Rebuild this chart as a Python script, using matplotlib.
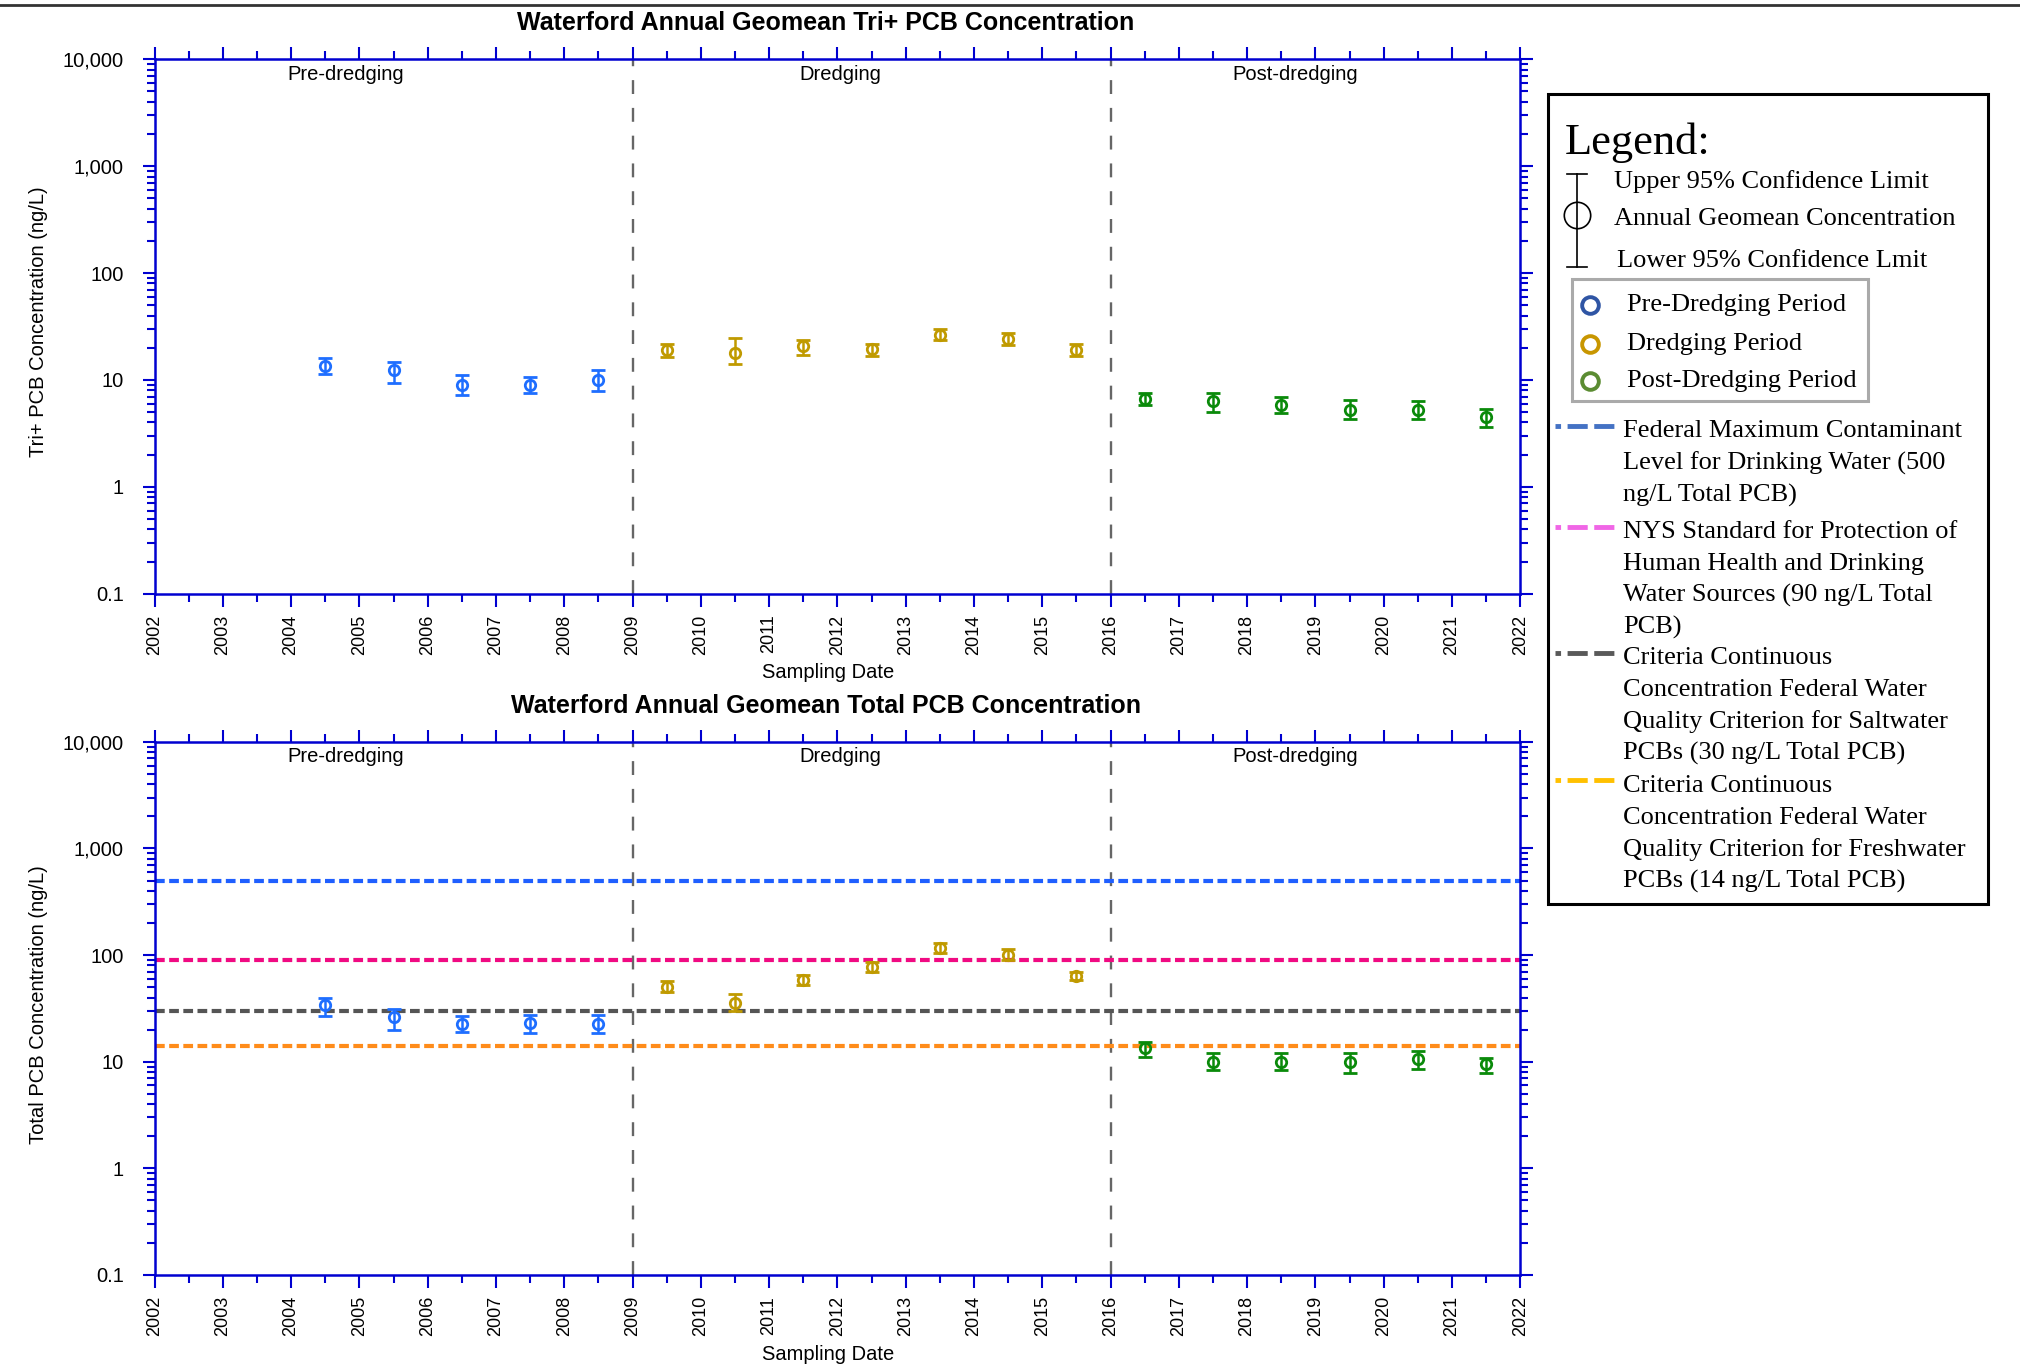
import matplotlib.pyplot as plt
from matplotlib.lines import Line2D
from matplotlib.patches import Rectangle
from matplotlib.ticker import FixedLocator, FuncFormatter, LogLocator, NullFormatter
import numpy as np

plt.rcParams['font.family'] = 'Liberation Sans'
plt.rcParams['lines.scale_dashes'] = False

# sampling year (mid-year) for each period
pre_years = [2004.5, 2005.5, 2006.5, 2007.5, 2008.5]
dred_years = [2009.5, 2010.5, 2011.5, 2012.5, 2013.5, 2014.5, 2015.5]
post_years = [2016.5, 2017.5, 2018.5, 2019.5, 2020.5, 2021.5]

# Tri+ PCB geomean, upper and lower 95% CL (ng/L)
tri_pre = [13.5, 12.4, 9.0, 9.0, 10.0]
tri_pre_up = [16.1, 14.7, 11.2, 10.6, 12.5]
tri_pre_lo = [11.3, 9.3, 7.2, 7.5, 7.9]
tri_dred = [18.9, 18.0, 20.6, 19.3, 26.6, 24.4, 19.2]
tri_dred_up = [21.9, 24.9, 23.8, 21.9, 29.7, 27.6, 21.9]
tri_dred_lo = [16.4, 14.0, 17.3, 16.6, 23.5, 21.1, 16.6]
tri_post = [6.6, 6.4, 5.8, 5.2, 5.2, 4.5]
tri_post_up = [7.5, 7.5, 6.9, 6.5, 6.3, 5.3]
tri_post_lo = [5.8, 5.0, 4.9, 4.3, 4.3, 3.6]

# Total PCB geomean, upper and lower 95% CL (ng/L)
tot_pre = [33.7, 26.0, 22.5, 23.0, 22.5]
tot_pre_up = [39.5, 31.2, 26.6, 27.6, 27.6]
tot_pre_lo = [26.6, 19.9, 18.9, 18.5, 18.5]
tot_dred = [50.2, 35.5, 58.9, 77.6, 117.0, 101.0, 63.4]
tot_dred_up = [56.9, 43.5, 65.7, 85.9, 131.0, 113.0, 69.6]
tot_dred_lo = [44.8, 29.6, 52.8, 69.6, 105.0, 89.7, 58.1]
tot_post = [13.4, 10.0, 10.0, 10.0, 10.6, 9.6]
tot_post_up = [15.4, 12.0, 12.0, 12.2, 12.7, 10.9]
tot_post_lo = [11.1, 8.3, 8.3, 7.9, 8.5, 7.9]

# criteria lines in the Total PCB panel (ng/L)
criteria = [500, 90, 30, 14]
criteria_colors = ['#1f5fff', '#f00a82', '#555555', '#ff8c1a']

period_bounds = [2009, 2016]
period_names = ['Pre-dredging', 'Dredging', 'Post-dredging']
period_pos = [2004.8, 2012.05, 2018.7]

pre_color = '#1e6eff'
dred_color = '#c09a00'
post_color = '#0a8a0a'
axis_color = '#0000d0'

W, H = 1568.0, 1063.0


def fp(x, y):
    return x / W, 1 - y / H


def style_axes(ax):
    ax.set_yscale('log')
    ax.set_xlim(2002, 2022)
    ax.set_ylim(0.1, 10000)
    for s in ax.spines.values():
        s.set_color(axis_color)
        s.set_linewidth(1.8)
    ax.xaxis.set_major_locator(FixedLocator(np.arange(2002, 2023)))
    ax.xaxis.set_minor_locator(FixedLocator(np.arange(2002.5, 2022, 1.0)))
    ax.yaxis.set_major_locator(LogLocator(base=10, numticks=10))
    ax.yaxis.set_minor_locator(LogLocator(base=10, subs=np.arange(2, 10), numticks=10))
    ax.yaxis.set_minor_formatter(NullFormatter())
    ax.yaxis.set_major_formatter(FuncFormatter(lambda v, p: '{:,}'.format(v) if v < 1 else '{:,}'.format(int(round(v)))))
    ax.tick_params(which='both', direction='out', color=axis_color, width=1.5,
                   top=True, right=True)
    ax.tick_params(which='major', length=9)
    ax.tick_params(which='minor', length=5.5)
    ax.tick_params(axis='x', labelrotation=90, pad=6, labelsize=13)
    ax.tick_params(axis='y', pad=13, labelsize=14.5)
    for b in period_bounds:
        ax.axvline(b, color='#666666', lw=1.7, linestyle=(0, (10, 10)), zorder=1)
    for name, xp in zip(period_names, period_pos):
        ax.text(xp, 0.99, name, transform=ax.get_xaxis_transform(), ha='center',
                va='top', fontsize=14.5)


def draw_points(ax, x, v, up, lo, color):
    v = np.array(v)
    err = [v - np.array(lo), np.array(up) - v]
    ax.errorbar(x, v, yerr=err, fmt='o', mfc='none', mec=color, mew=2, ms=7.5,
                ecolor=color, elinewidth=1.8, capsize=4.7, capthick=1.8, zorder=5)


fig = plt.figure(figsize=(20.2, 13.69), dpi=100)
ax1 = fig.add_axes([0.0765, 0.5663, 0.6761, 0.3904])
ax2 = fig.add_axes([0.0765, 0.0687, 0.6761, 0.3894])

style_axes(ax1)
draw_points(ax1, pre_years, tri_pre, tri_pre_up, tri_pre_lo, pre_color)
draw_points(ax1, dred_years, tri_dred, tri_dred_up, tri_dred_lo, dred_color)
draw_points(ax1, post_years, tri_post, tri_post_up, tri_post_lo, post_color)

style_axes(ax2)
for c, col in zip(criteria, criteria_colors):
    ax2.axhline(c, color=col, lw=3, linestyle=(0, (7, 3.2)), zorder=2)
draw_points(ax2, pre_years, tot_pre, tot_pre_up, tot_pre_lo, pre_color)
draw_points(ax2, dred_years, tot_dred, tot_dred_up, tot_dred_lo, dred_color)
draw_points(ax2, post_years, tot_post, tot_post_up, tot_post_lo, post_color)

# titles and axis labels
fig.text(*fp(641, 18), 'Waterford Annual Geomean Tri+ PCB Concentration', ha='center',
         va='center', fontsize=18, fontweight='bold')
fig.text(*fp(641, 548), 'Waterford Annual Geomean Total PCB Concentration', ha='center',
         va='center', fontsize=18, fontweight='bold')
fig.text(*fp(643, 522), 'Sampling Date', ha='center', va='center', fontsize=14.5)
fig.text(*fp(643, 1052), 'Sampling Date', ha='center', va='center', fontsize=14.5)
fig.text(*fp(30, 250), 'Tri+ PCB Concentration (ng/L)', ha='center', va='center',
         rotation=90, fontsize=14.5)
fig.text(*fp(30, 780), 'Total PCB Concentration (ng/L)', ha='center', va='center',
         rotation=90, fontsize=14.5)

# rule across the top
fig.add_artist(Line2D([0, 1], [1 - 5 / 1369, 1 - 5 / 1369], transform=fig.transFigure,
                      color='#333333', lw=2))

# legend panel
serif = 'Liberation Serif'
x0, y0 = fp(1202, 702)
x1, y1 = fp(1543, 73)
fig.add_artist(Rectangle((x0, y0), x1 - x0, y1 - y0, transform=fig.transFigure,
                         fill=False, edgecolor='black', lw=2.2))
fig.text(*fp(1215, 111), 'Legend:', family=serif, fontsize=32, va='center')

sx = 1224
fig.add_artist(Line2D([fp(sx, 135)[0]] * 2, [fp(sx, 135)[1], fp(sx, 207)[1]],
                      transform=fig.transFigure, color='black', lw=1.2))
for cy in [135, 207]:
    fig.add_artist(Line2D([fp(sx - 8, cy)[0], fp(sx + 8, cy)[0]], [fp(sx, cy)[1]] * 2,
                          transform=fig.transFigure, color='black', lw=1.2))
fig.add_artist(Line2D([fp(sx, 167)[0]], [fp(sx, 167)[1]], transform=fig.transFigure,
                      marker='o', ms=19, mfc='none', mec='black', mew=1.2))
fig.text(*fp(1253, 141), 'Upper 95% Confidence Limit', family=serif, fontsize=19, va='center')
fig.text(*fp(1253, 170), 'Annual Geomean Concentration', family=serif, fontsize=19, va='center')
fig.text(*fp(1255, 203), 'Lower 95% Confidence Lmit', family=serif, fontsize=19, va='center')

bx0, by0 = fp(1220, 311)
bx1, by1 = fp(1450, 217)
fig.add_artist(Rectangle((bx0, by0), bx1 - bx0, by1 - by0, transform=fig.transFigure,
                         fill=False, edgecolor='#aaaaaa', lw=2.2))
legend_periods = ['Pre-Dredging Period', 'Dredging Period', 'Post-Dredging Period']
legend_period_colors = ['#2f55a4', '#c89600', '#5b8c32']
for name, col, yy in zip(legend_periods, legend_period_colors, [237, 267, 296]):
    fig.add_artist(Line2D([fp(1234, yy)[0]], [fp(1234, yy)[1]], transform=fig.transFigure,
                          marker='o', ms=12, mfc='none', mec=col, mew=2.8))
    fig.text(*fp(1263, yy), name, family=serif, fontsize=19, va='center')

legend_lines = [
    ['Federal Maximum Contaminant', 'Level for Drinking Water (500', 'ng/L Total PCB)'],
    ['NYS Standard for Protection of', 'Human Health and Drinking',
     'Water Sources (90 ng/L Total', 'PCB)'],
    ['Criteria Continuous', 'Concentration Federal Water',
     'Quality Criterion for Saltwater', 'PCBs (30 ng/L Total PCB)'],
    ['Criteria Continuous', 'Concentration Federal Water',
     'Quality Criterion for Freshwater', 'PCBs (14 ng/L Total PCB)'],
]
legend_line_colors = ['#4472c4', '#f066e6', '#595959', '#ffc000']
legend_line_y = [331, 409, 507, 606]
for lines, col, ly in zip(legend_lines, legend_line_colors, legend_line_y):
    fig.add_artist(Line2D([fp(1207, ly)[0], fp(1253, ly)[0]], [fp(1207, ly)[1]] * 2,
                          transform=fig.transFigure, color=col, lw=3.5,
                          linestyle=(10.5, (14.5, 4.7))))
    for i, t in enumerate(lines):
        fig.text(*fp(1260, ly + 4 + 24.8 * i), t, family=serif, fontsize=19, va='center')

fig.savefig('out.png', dpi=100)
